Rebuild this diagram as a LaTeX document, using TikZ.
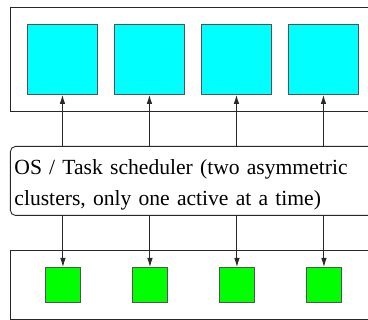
\documentclass[tikz,border=0pt]{standalone}
\usepackage{fontspec}
\setmainfont{Liberation Serif}
\usetikzlibrary{arrows.meta}
\definecolor{cyanfill}{RGB}{0,255,255}
\definecolor{greenfill}{RGB}{0,255,0}
\definecolor{edge}{RGB}{40,40,40}
\tikzset{
  outer/.style={draw=edge, line width=0.9pt, fill=white},
  bigsq/.style={draw=edge!80, line width=0.9pt, fill=cyanfill, minimum width=70pt, minimum height=70pt, inner sep=0pt, anchor=north west},
  smallsq/.style={draw=edge!80, line width=0.9pt, fill=greenfill, minimum width=35pt, minimum height=35pt, inner sep=0pt, anchor=north west},
  sched/.style={draw=edge, line width=0.9pt, rounded corners=5pt, fill=white, anchor=north west, text width=392pt, align=left, inner xsep=4pt, inner ysep=0pt, minimum height=69pt, font=\fontsize{21.6}{31}\selectfont},
  conn/.style={draw=edge, line width=0.9pt, -{Latex[length=9pt,width=5.5pt]}}
}
\begin{document}
\begin{tikzpicture}[x=1pt,y=-1pt]
\useasboundingbox (0,0) rectangle (368,320);
\clip (0,0) rectangle (368,320);
\fill[white] (0,0) rectangle (368,320);
\draw[outer] (10,7) rectangle (420,111);
\draw[outer] (10,250) rectangle (420,319);
\node[bigsq] (c1) at (27,24) {};
\node[bigsq] (c2) at (114,24) {};
\node[bigsq] (c3) at (201,24) {};
\node[bigsq] (c4) at (288,24) {};
\node[smallsq] (g1) at (45,267) {};
\node[smallsq] (g2) at (132,267) {};
\node[smallsq] (g3) at (219,267) {};
\node[smallsq] (g4) at (306,267) {};
\node[sched] (os) at (10,146) {\rule{0pt}{28pt}OS / Task scheduler (two asymmetric\\clusters, only one active at a time)\rule[-10pt]{0pt}{10pt}};
\foreach \i in {1,2,3,4} {
  \draw[conn] (os.north -| c\i) -- (c\i.south);
  \draw[conn] (os.south -| g\i) -- (g\i.north);
}
\end{tikzpicture}
\end{document}
